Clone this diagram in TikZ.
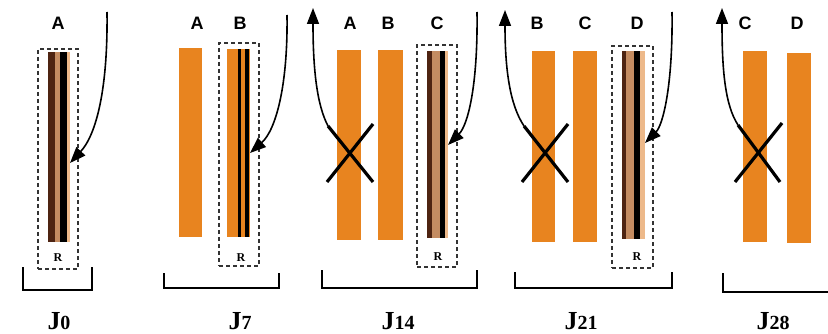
\documentclass[tikz,border=0pt]{standalone}
\usepackage{fontspec}
\setmainfont{Liberation Serif}
\newfontfamily\labfont{Liberation Sans}
\usetikzlibrary{arrows.meta}
\definecolor{barorange}{HTML}{E8841F}
\definecolor{darkbrown}{HTML}{4E2412}
\definecolor{tanbrown}{HTML}{C48C62}
\definecolor{lighttan}{HTML}{EDB98A}
\begin{document}
\begin{tikzpicture}[x=1pt,y=-1pt,
  orangebar/.style={fill=barorange, draw=none, inner sep=0pt, outer sep=0pt, minimum width=23pt, minimum height=190pt},
  stripebar/.style={fill=lighttan, draw=none, inner sep=0pt, outer sep=0pt, minimum width=22pt, minimum height=190pt},
  dbox/.style={draw=black!80, dash pattern=on 4pt off 3pt, line width=1.1pt, inner sep=0pt, minimum width=40pt, minimum height=222pt},
  lbl/.style={font=\labfont\bfseries\fontsize{18}{18}\selectfont, inner sep=0pt},
  rlbl/.style={font=\bfseries\fontsize{12}{12}\selectfont, inner sep=0pt},
  jlbl/.style={font=\bfseries\fontsize{26}{26}\selectfont, inner sep=0pt},
  crossline/.style={line width=3.2pt, black},
  flow/.style={line width=1.6pt, -{Triangle[length=16pt,width=12pt]}},
  bracket/.style={line width=1.5pt}
]
\useasboundingbox (0,0) rectangle (828,334);

% ---------- J0 ----------
\node[dbox, minimum height=220pt] (box0) at (58,159) {};
\node[stripebar, minimum width=22pt] (j0A) at (59,147) {};
\fill[darkbrown] (j0A.north west) rectangle ([xshift=7pt]j0A.south west);
\fill[tanbrown] ([xshift=7pt]j0A.north west) rectangle ([xshift=12pt]j0A.south west);
\fill[black] ([xshift=12pt]j0A.north west) rectangle ([xshift=19pt]j0A.south west);
\node[lbl] (l0A) at (58,23) {A};
\node[rlbl] (r0) at (58,258) {R};
\draw[bracket] (23,267) -- (23,290) -- (92,290) -- (92,267);
\node[jlbl] (J0) at (59,321) {J{\fontsize{20}{20}\selectfont 0}};
\coordinate (s0) at (107,12);
\draw[flow] (s0) .. controls (108,90) and (96,135) .. ([yshift=-16pt]j0A.east);

% ---------- J7 ----------
\node[orangebar, minimum height=189pt] (j7A) at (190.5,142.5) {};
\node[dbox, minimum height=223pt] (box7) at (239,154.5) {};
\node[orangebar, minimum height=188pt] (j7B) at (238.5,143) {};
\fill[black] ([xshift=11pt]j7B.north west) rectangle ([xshift=13.5pt]j7B.south west);
\fill[black] ([xshift=18pt]j7B.north west) rectangle ([xshift=22pt]j7B.south west);
\node[lbl] (l7A) at (197,23) {A};
\node[lbl] (l7B) at (240,23) {B};
\node[rlbl] (r7) at (241,258) {R};
\draw[bracket] (164,273) -- (164,288) -- (279,288) -- (279,273);
\node[jlbl] (J7) at (240,321) {J{\fontsize{20}{20}\selectfont 7}};
\coordinate (s7) at (287,15);
\draw[flow] (s7) .. controls (288,85) and (276,130) .. ([yshift=-10pt]j7B.east);

% ---------- J14 ----------
\node[orangebar, minimum width=24pt] (j14A) at (349,145) {};
\node[orangebar, minimum width=25pt] (j14B) at (390.5,145) {};
\node[dbox] (box14) at (437,156) {};
\node[stripebar, minimum width=21pt, minimum height=187pt] (j14C) at (437.5,144.5) {};
\fill[darkbrown] (j14C.north west) rectangle ([xshift=5pt]j14C.south west);
\fill[tanbrown] ([xshift=5pt]j14C.north west) rectangle ([xshift=13pt]j14C.south west);
\fill[black] ([xshift=13pt]j14C.north west) rectangle ([xshift=18pt]j14C.south west);
\node[lbl] (l14A) at (350,23) {A};
\node[lbl] (l14B) at (388,23) {B};
\node[lbl] (l14C) at (437,23) {C};
\node[rlbl] (r14) at (438,257) {R};
\draw[bracket] (322,270) -- (322,288) -- (477,288) -- (477,270);
\node[jlbl] (J14) at (398,321) {J{\fontsize{20}{20}\selectfont 14}};
\coordinate (x14a) at (328,126);
\coordinate (x14b) at (373,182);
\coordinate (x14c) at (327,182);
\coordinate (x14d) at (373,124);
\draw[crossline] (x14a) -- (x14b);
\draw[crossline] (x14c) -- (x14d);
\coordinate (u14) at (313,8);
\draw[flow] (x14a) .. controls (317,105) and (313,70) .. (u14);
\coordinate (s14) at (477,12);
\draw[flow] (s14) .. controls (478,85) and (468,125) .. ([yshift=-0.5pt]j14C.east);

% ---------- J21 ----------
\node[orangebar, minimum height=191pt] (j21B) at (543.5,146.5) {};
\node[orangebar, minimum width=24pt, minimum height=191pt] (j21C) at (585,146.5) {};
\node[dbox, minimum width=41pt] (box21) at (632.5,157) {};
\node[stripebar, minimum width=23pt, minimum height=188pt] (j21D) at (633.5,145) {};
\fill[darkbrown] (j21D.north west) rectangle ([xshift=4pt]j21D.south west);
\fill[tanbrown] ([xshift=4pt]j21D.north west) rectangle ([xshift=12pt]j21D.south west);
\fill[black] ([xshift=12pt]j21D.north west) rectangle ([xshift=18pt]j21D.south west);
\node[lbl] (l21B) at (537,23) {B};
\node[lbl] (l21C) at (585,23) {C};
\node[lbl] (l21D) at (637,23) {D};
\node[rlbl] (r21) at (637,257) {R};
\draw[bracket] (515,272) -- (515,288) -- (672,288) -- (672,272);
\node[jlbl] (J21) at (581,321) {J{\fontsize{20}{20}\selectfont 21}};
\coordinate (x21a) at (524,126);
\coordinate (x21b) at (568,182);
\coordinate (x21c) at (522,182);
\coordinate (x21d) at (568,124);
\draw[crossline] (x21a) -- (x21b);
\draw[crossline] (x21c) -- (x21d);
\coordinate (u21) at (505,10);
\draw[flow] (x21a) .. controls (510,105) and (505,70) .. (u21);
\coordinate (s21) at (672,12);
\draw[flow] (s21) .. controls (673,85) and (663,125) .. ([yshift=2pt]j21D.east);

% ---------- J28 ----------
\node[orangebar, minimum width=24pt, minimum height=191pt] (j28C) at (755,146.5) {};
\node[orangebar, minimum width=24pt] (j28D) at (799,148) {};
\node[lbl] (l28C) at (745,23) {C};
\node[lbl] (l28D) at (797,23) {D};
\draw[bracket] (723,273) -- (723,292) -- (830,292);
\node[jlbl] (J28) at (773,321) {J{\fontsize{20}{20}\selectfont 28}};
\coordinate (x28a) at (738,125);
\coordinate (x28b) at (780,182);
\coordinate (x28c) at (735,182);
\coordinate (x28d) at (782,123);
\draw[crossline] (x28a) -- (x28b);
\draw[crossline] (x28c) -- (x28d);
\coordinate (u28) at (722,8);
\draw[flow] (x28a) .. controls (725,105) and (722,70) .. (u28);
\end{tikzpicture}
\end{document}
